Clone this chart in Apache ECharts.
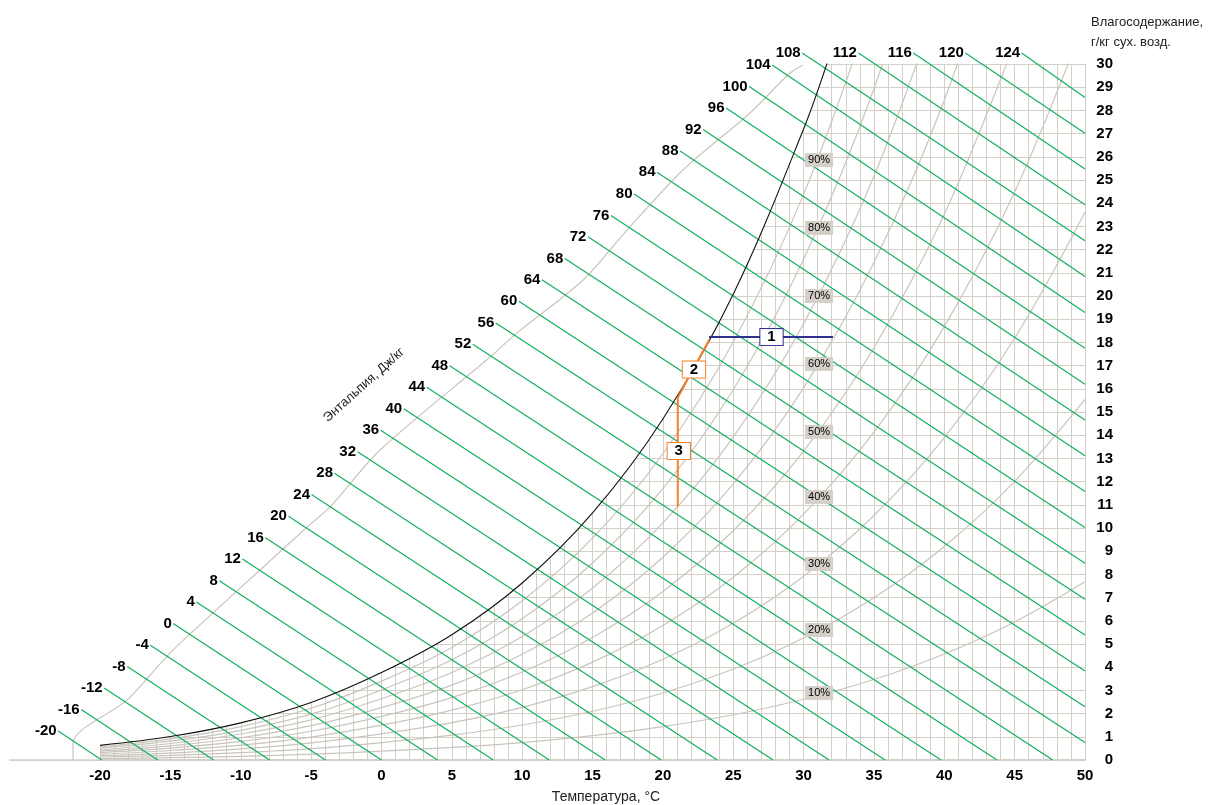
<!DOCTYPE html>
<html>
<head>
<meta charset="utf-8">
<script src="https://cdn.jsdelivr.net/npm/echarts@6/dist/echarts.min.js"></script>
<style>
html, body { margin: 0; background: #fff; }
#chart { width: 1230px; height: 805px; }
</style>
</head>
<body>
<div id="chart"></div>
<script>
// оси
const tempLabels = [-20, -15, -10, -5, 0, 5, 10, 15, 20, 25, 30, 35, 40, 45, 50];
const tempGrid = [-20, -19, -18, -17, -16, -15, -14, -13, -12, -11, -10, -9, -8, -7, -6, -5, -4, -3, -2, -1,
    0, 1, 2, 3, 4, 5, 6, 7, 8, 9, 10, 11, 12, 13, 14, 15, 16, 17, 18, 19, 20, 21, 22, 23, 24, 25, 26, 27, 28, 29,
    30, 31, 32, 33, 34, 35, 36, 37, 38, 39, 40, 41, 42, 43, 44, 45, 46, 47, 48, 49, 50];

// линия насыщения (100%)
const satT = [-20, -15, -10, -5, 0, 5, 10, 15, 20, 25, 30, 32, 35];
const satD = [0.63, 1.01, 1.60, 2.48, 3.77, 5.40, 7.63, 10.65, 14.70, 20.08, 27.20, 30.65, 36.58];

// линии относительной влажности
const rhT = [-20, -15, -10, -5, 0, 5, 10, 15, 20, 25, 30, 35, 40, 45, 50];
const rh10 = [0.06, 0.10, 0.16, 0.25, 0.38, 0.54, 0.75, 1.05, 1.44, 1.95, 2.62, 3.47, 4.57, 5.95, 7.68];
const rh20 = [0.13, 0.20, 0.32, 0.49, 0.75, 1.07, 1.51, 2.10, 2.89, 3.92, 5.26, 6.99, 9.20, 12.01, 15.54];
const rh30 = [0.19, 0.30, 0.48, 0.74, 1.13, 1.61, 2.27, 3.16, 4.34, 5.89, 7.92, 10.54, 13.90, 18.18, 23.61];
const rh40 = [0.25, 0.41, 0.64, 0.99, 1.50, 2.15, 3.03, 4.22, 5.80, 7.88, 10.60, 14.13, 18.68, 24.48, 31.88];
const rh50 = [0.32, 0.51, 0.80, 1.24, 1.88, 2.69, 3.79, 5.28, 7.26, 9.88, 13.31, 17.77, 23.52, 30.91];
const rh60 = [0.38, 0.61, 0.96, 1.48, 2.26, 3.23, 4.56, 6.34, 8.74, 11.90, 16.04, 21.44, 28.44, 37.46];
const rh70 = [0.44, 0.71, 1.12, 1.73, 2.64, 3.77, 5.32, 7.41, 10.22, 13.92, 18.80, 25.16, 33.44];
const rh80 = [0.51, 0.81, 1.28, 1.98, 3.02, 4.32, 6.09, 8.49, 11.70, 15.96, 21.58, 28.93, 38.51];
const rh90 = [0.57, 0.91, 1.44, 2.23, 3.40, 4.85, 6.86, 9.56, 13.20, 18.02, 24.38, 32.73];
const rhCurves = [rh10, rh20, rh30, rh40, rh50, rh60, rh70, rh80, rh90];
const rhNames = ['10%', '20%', '30%', '40%', '50%', '60%', '70%', '80%', '90%'];
const rhLabelT = 31.1;
const rhLabelD = [2.89, 5.60, 8.45, 11.34, 14.14, 17.07, 20.0, 22.93, 25.86];

// линии энтальпии
const enthalpy = [-20, -16, -12, -8, -4, 0, 4, 8, 12, 16, 20, 24, 28, 32, 36, 40, 44, 48, 52, 56, 60,
    64, 68, 72, 76, 80, 84, 88, 92, 96, 100, 104, 108, 112, 116, 120, 124];
const startT = [-22.98, -21.34, -19.71, -18.07, -16.43, -14.80, -13.16, -11.52, -9.88, -8.25, -6.61, -4.97,
    -3.34, -1.70, -0.06, 1.58, 3.21, 4.85, 6.49, 8.12, 9.76, 11.40, 13.03, 14.67, 16.31, 17.95, 19.58, 21.22,
    22.86, 24.49, 26.13, 27.77, 29.9, 33.9, 37.8, 41.5, 45.5];
const startD = [1.25, 2.18, 3.10, 4.03, 4.95, 5.88, 6.81, 7.73, 8.66, 9.58, 10.51, 11.44, 12.36, 13.29, 14.21,
    15.14, 16.07, 16.99, 17.92, 18.84, 19.77, 20.70, 21.62, 22.55, 23.47, 24.40, 25.33, 26.25, 27.18, 28.10,
    29.03, 29.96, 30.47, 30.47, 30.47, 30.47, 30.47];
const endT = [-19.88, -15.90, -11.93, -7.95, -3.98, 0, 3.98, 7.95, 11.93, 15.90, 19.88, 23.86, 27.83, 31.81,
    35.79, 39.76, 43.74, 47.71, 50, 50, 50, 50, 50, 50, 50, 50, 50, 50, 50, 50, 50, 50, 50, 50, 50, 50, 50];
const endD = [0, 0, 0, 0, 0, 0, 0, 0, 0, 0, 0, 0, 0, 0, 0, 0, 0, 0, 0.75, 2.30, 3.84, 5.39, 6.93, 8.48, 10.02,
    11.57, 13.11, 14.66, 16.20, 17.75, 19.29, 20.84, 22.38, 23.93, 25.47, 27.02, 28.56];

// граница поля подписей энтальпии
const edgeT = [-21.92, -21.92, -18.08, -15.03, -11.97, -8.63, -5.29, -3.65, -0.10, 7.72, 9.64, 14.33, 17.45, 21.43, 26.19, 29.04, 29.96];
const edgeD = [0, 0.73, 2.59, 4.61, 6.34, 8.19, 10.04, 10.91, 13.36, 17.37, 18.41, 20.69, 22.84, 25.43, 27.89, 29.61, 29.96];

// процесс
const proc1T = [23.28, 32.09];
const proc1D = [18.23, 18.23];
const proc2T = [23.28, 21.06, 21.06];
const proc2D = [18.10, 15.62, 10.92];
const pointNames = ['1', '2', '3'];
const pointT = [27.72, 22.21, 21.13];
const pointD = [18.23, 16.83, 13.32];
const pointColor = ['#303090', '#f5822a', '#f5822a'];

const GRID = '#d4d0c8';
const CURVE = '#c9c5bd';
const FONT = 'Liberation Sans, Arial, sans-serif';
const zip = (a, b) => a.map((v, i) => [v, b[i]]);

const chart = echarts.init(document.getElementById('chart'));

const series = [];
// белая заливка над линией насыщения (скрывает сетку)
series.push({
    type: 'line', data: [[-26.4, 0.03], [-20.05, 0.03], [-20.05, 0.62], [-19.9, 0.64]], symbol: 'none', silent: true,
    lineStyle: { width: 0 }, areaStyle: { color: '#fff', opacity: 1, origin: 'end' }, z: 1
});
series.push({
    type: 'line', data: zip(satT, satD), symbol: 'none', silent: true, smooth: 0.35,
    lineStyle: { width: 0 }, areaStyle: { color: '#fff', opacity: 1, origin: 'end' }, z: 1
});
rhCurves.forEach((c, i) => {
    series.push({
        type: 'line', name: rhNames[i], data: zip(rhT.slice(0, c.length), c), symbol: 'none', silent: true,
        smooth: 0.35, lineStyle: { color: CURVE, width: 1.2 }, z: 3
    });
});
series.push({
    type: 'line', data: zip(edgeT, edgeD), symbol: 'none', silent: true, smooth: 0.3,
    lineStyle: { color: CURVE, width: 1.2 }, z: 3
});
series.push({
    type: 'line', data: zip(satT, satD), symbol: 'none', silent: true, smooth: 0.35,
    lineStyle: { color: '#111', width: 1.1 }, z: 5
});
series.push({
    type: 'lines', coordinateSystem: 'cartesian2d', clip: false, silent: true, z: 4,
    lineStyle: { color: '#12b05c', width: 1.2, opacity: 1 },
    data: enthalpy.map((h, i) => ({ coords: [[startT[i], startD[i]], [endT[i], endD[i]]] }))
});
series.push({
    type: 'scatter', clip: false, silent: true, symbolSize: 1, itemStyle: { color: 'transparent', opacity: 1 }, z: 6,
    data: enthalpy.map((h, i) => [startT[i], startD[i], h]),
    label: {
        show: true, position: 'left', distance: 1, formatter: p => p.value[2],
        fontFamily: FONT, fontWeight: 'bold', fontSize: 15, color: '#000'
    }
});
series.push({
    type: 'scatter', silent: true, symbolSize: 1, itemStyle: { color: 'transparent', opacity: 1 }, z: 6,
    data: rhNames.map((n, i) => [rhLabelT, rhLabelD[i], n]),
    label: {
        show: true, position: 'inside', formatter: p => p.value[2], backgroundColor: GRID,
        padding: [2, 3, 1, 3], fontFamily: FONT, fontSize: 11, color: '#000'
    }
});
series.push({
    type: 'line', data: zip(proc1T, proc1D), symbol: 'none', silent: true,
    lineStyle: { color: '#303090', width: 2 }, z: 7
});
series.push({
    type: 'line', data: zip(proc2T, proc2D), symbol: 'none', silent: true,
    lineStyle: { color: '#f5822a', width: 2 }, z: 7
});
series.push({
    type: 'scatter', silent: true, symbolSize: 1, itemStyle: { color: 'transparent', opacity: 1 }, z: 8,
    data: pointNames.map((n, i) => ({
        value: [pointT[i], pointD[i], n],
        label: { borderColor: pointColor[i] }
    })),
    label: {
        show: true, position: 'inside', formatter: p => p.value[2], backgroundColor: '#fff',
        borderWidth: 1, padding: [1, 7, 0, 7], fontFamily: FONT, fontWeight: 'bold', fontSize: 15, color: '#000'
    }
});

const option = {
    animation: false,
    backgroundColor: '#fff',
    grid: { left: 10, right: 145, top: 64, bottom: 45 },
    xAxis: {
        type: 'value', min: -26.4, max: 50,
        axisLine: { show: true, onZero: false, lineStyle: { color: GRID, width: 2 } },
        axisTick: { show: false, customValues: tempGrid },
        axisLabel: {
            customValues: tempLabels, margin: 8, fontFamily: FONT, fontWeight: 'bold', fontSize: 15, color: '#000'
        },
        splitLine: { show: true, lineStyle: { color: GRID, width: 1 } }
    },
    yAxis: {
        type: 'value', position: 'right', min: 0, max: 30, interval: 1,
        axisLine: { show: false },
        axisTick: { show: true, length: 6, lineStyle: { color: GRID } },
        axisLabel: { align: 'right', margin: 28, fontFamily: FONT, fontWeight: 'bold', fontSize: 15, color: '#000' },
        splitLine: { show: true, lineStyle: { color: GRID, width: 1 } }
    },
    graphic: [
        {
            type: 'text', x: 606, y: 797, z: 100,
            style: { text: 'Температура, °C', font: '14px ' + FONT, fill: '#222', align: 'center', verticalAlign: 'middle' }
        },
        {
            type: 'text', x: 1091, y: 12, z: 100,
            style: { text: 'Влагосодержание,\nг/кг сух. возд.', font: '13px ' + FONT, fill: '#222', lineHeight: 20, verticalAlign: 'top' }
        },
        {
            type: 'text', x: 364, y: 385, z: 100, rotation: 42 * Math.PI / 180,
            style: { text: 'Энтальпия, Дж/кг', font: '13px ' + FONT, fill: '#222', align: 'center', verticalAlign: 'middle' }
        }
    ],
    series: series
};
chart.setOption(option);
</script>
</body>
</html>
